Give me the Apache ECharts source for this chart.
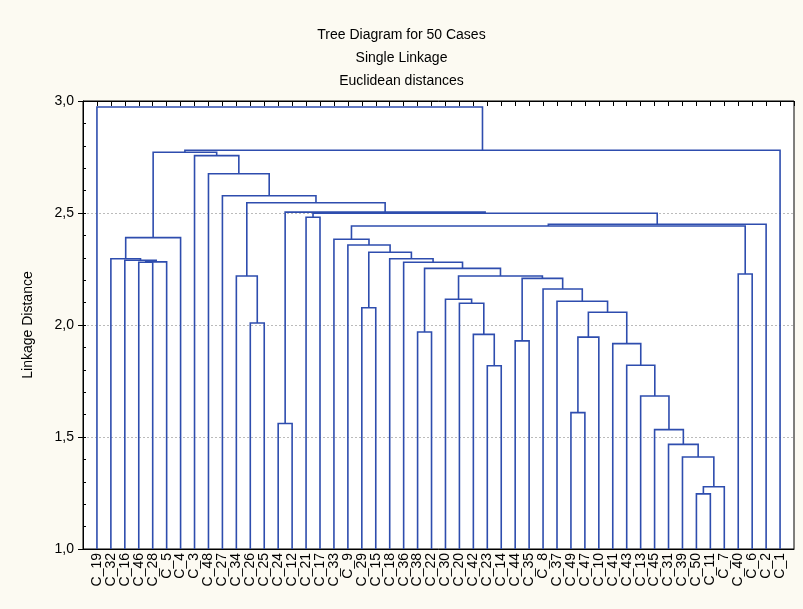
<!DOCTYPE html>
<html>
<head>
<meta charset="utf-8">
<script src="https://cdn.jsdelivr.net/npm/echarts@6/dist/echarts.min.js"></script>
<style>
html,body{margin:0;padding:0;background:#FCFAF2;}
#chart{width:803px;height:609px;}
</style>
</head>
<body>
<div id="chart"></div>
<script>
// Leaf order along the x axis
const leafOrder = ['C_19','C_32','C_16','C_46','C_28','C_5','C_4','C_3','C_48','C_27',
  'C_34','C_26','C_25','C_24','C_12','C_21','C_17','C_33','C_9','C_29',
  'C_15','C_18','C_36','C_38','C_22','C_30','C_20','C_42','C_23','C_14',
  'C_44','C_35','C_8','C_37','C_49','C_47','C_10','C_41','C_43','C_13',
  'C_45','C_31','C_39','C_50','C_11','C_7','C_40','C_6','C_2','C_1'];

// Merges: mK joins mergeLeft[K] and mergeRight[K] at mergeHeight[K]
const mergeLeft  = ['C_50','m0','C_39','C_31','C_45','C_24','C_49','C_13','C_23','C_43',
  'C_41','C_44','m6','C_42','C_38','C_26','m12','C_29','C_20','C_37',
  'C_30','C_8','m11','m20','C_34','C_40','m14','C_36','C_46','m28',
  'C_16','C_18','C_32','m17','C_9','C_33','m32','m35','m37','C_21',
  'm39','m5','m24','C_27','C_48','C_3','m36','m46','C_19'];
const mergeRight = ['C_11','C_7','m1','m2','m3','C_12','C_47','m4','C_14','m7',
  'm9','C_35','C_10','m8','C_22','C_25','m10','C_15','m13','m16',
  'm18','m19','m21','m22','m15','C_6','m23','m26','C_28','C_5',
  'm29','m27','m30','m31','m33','m34','C_4','m25','C_2','C_17',
  'm38','m40','m41','m42','m43','m44','m45','C_1','m47'];
const mergeHeight = [1.246,1.278,1.411,1.467,1.533,1.560,1.609,1.683,1.818,1.820,
  1.917,1.929,1.946,1.958,1.969,2.009,2.057,2.077,2.097,2.106,
  2.115,2.161,2.208,2.219,2.219,2.228,2.253,2.280,2.280,2.282,
  2.289,2.296,2.296,2.325,2.357,2.383,2.390,2.442,2.450,2.481,
  2.499,2.504,2.546,2.577,2.675,2.756,2.771,2.780,2.973];

const yTicks = [1.0, 1.5, 2.0, 2.5, 3.0];

// Build segment data (positions from leaf index, heights from data)
const leafBase = 0;
const node = {};
leafOrder.forEach((n, i) => { node[n] = {x: i + 1, h: leafBase}; });
const segs = [];
mergeHeight.forEach((h, k) => {
  const a = node[mergeLeft[k]], b = node[mergeRight[k]];
  segs.push([a.x, a.h, b.x, b.h, h]);
  node['m' + k] = {x: (a.x + b.x) / 2, h: h};
});

const FONT = 'Liberation Sans, Arial, sans-serif';
const LINE = '#2E4DAE';

const chart = echarts.init(document.getElementById('chart'));
chart.setOption({
  backgroundColor: '#FCFAF2',
  animation: false,
  title: {
    text: 'Tree Diagram for 50 Cases\nSingle Linkage\nEuclidean distances',
    left: 'center', top: 19,
    textStyle: {fontFamily: FONT, fontSize: 14, fontWeight: 'normal', color: '#000', lineHeight: 23}
  },
  grid: {left: 83, right: 9, top: 101, bottom: 60, show: true, backgroundColor: '#fff', borderColor: '#000', borderWidth: 1},
  xAxis: [{
    type: 'value', min: 0, max: 51, interval: 1, position: 'bottom',
    axisLine: {show: true, lineStyle: {color: '#000'}},
    axisTick: {show: false},
    splitLine: {show: false},
    axisLabel: {
      rotate: 90, margin: 4, fontFamily: FONT, fontSize: 14, color: '#000',
      showMinLabel: false, showMaxLabel: false,
      formatter: v => leafOrder[v - 1] || ''
    }
  }, {
    type: 'value', min: 0, max: 51, interval: 1, position: 'top',
    axisLine: {show: true, lineStyle: {color: '#000'}},
    axisTick: {show: true, inside: true, length: 5, lineStyle: {color: '#000'}},
    axisLabel: {show: false}, splitLine: {show: false}
  }],
  yAxis: [{
    type: 'value', min: 1, max: 3, interval: 0.5,
    name: 'Linkage Distance', nameLocation: 'middle', nameGap: 48,
    nameTextStyle: {fontFamily: FONT, fontSize: 14, color: '#000'},
    axisLine: {show: true, lineStyle: {color: '#000'}},
    axisTick: {show: true, length: 5, lineStyle: {color: '#000'}},
    axisLabel: {margin: 9, fontFamily: FONT, fontSize: 14, color: '#000',
      formatter: v => v.toFixed(1).replace('.', ',')},
    splitLine: {show: true, lineStyle: {color: '#bbb', type: [2, 2]}}
  }, {
    type: 'value', min: 1, max: 3, interval: 0.1, position: 'left', offset: 0,
    axisLine: {show: false},
    axisTick: {show: true, inside: true, length: 3, lineStyle: {color: '#000'}},
    axisLabel: {show: false}, splitLine: {show: false}
  }],
  series: [{
    type: 'custom',
    xAxisIndex: 0, yAxisIndex: 0,
    clip: true,
    data: segs,
    encode: {x: [0, 2], y: [1, 3, 4]},
    renderItem: function (params, api) {
      const xl = api.value(0), hl = api.value(1), xr = api.value(2), hr = api.value(3), h = api.value(4);
      const pts = [api.coord([xl, hl]), api.coord([xl, h]), api.coord([xr, h]), api.coord([xr, hr])];
      return {
        type: 'polyline',
        shape: {points: pts},
        style: {stroke: LINE, lineWidth: 1.6, fill: null}
      };
    }
  }]
});
</script>
</body>
</html>
